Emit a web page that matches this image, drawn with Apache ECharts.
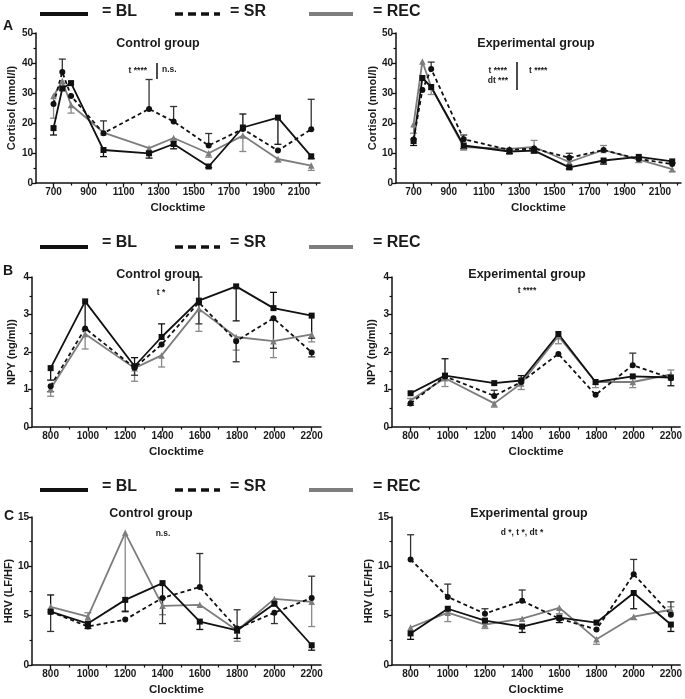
<!DOCTYPE html>
<html><head><meta charset="utf-8">
<script src="https://cdn.jsdelivr.net/npm/echarts@6/dist/echarts.min.js"></script>
<style>html,body{margin:0;padding:0;background:#fff}#c{width:685px;height:699px}</style>
</head><body><div id="c"></div>
<script>
// ---------- DATA ----------
const cortTimes = [700, 750, 800, 985, 1245, 1385, 1585, 1780, 1980, 2170];
const cortCtrlBL  = [18.3, 31.5, 33.3, 11.0, 9.9, 13.0, 5.5, 18.5, 21.8, 8.9];
const cortCtrlSR  = [26.3, 37.0, 29.0, 16.6, 24.7, 20.5, 12.5, 18.0, 10.8, 17.9];
const cortCtrlREC = [29.0, 34.0, 26.0, 16.8, 11.6, 15.0, 9.9, 15.8, 8.0, 5.8];
const cortCtrlBLErr  = [-2.3, 0, 0, -2.2, -1.6, -1.6, -0.4, 4.5, -8.9, -0.8];
const cortCtrlSRErr  = [0, 4.3, 0, 4.1, 9.8, 5.0, 4.0, 0, 0, 10.0];
const cortCtrlRECErr = [-7.4, -3.0, -2.7, 0, -1.0, -1.0, -1.3, -5.3, -1.0, -1.6];

const cortExpBL  = [14.0, 35.0, 32.0, 12.5, 10.5, 10.8, 5.2, 7.5, 8.7, 7.2];
const cortExpSR  = [14.5, 31.0, 38.0, 14.6, 11.0, 11.5, 8.4, 11.0, 8.0, 6.3];
const cortExpREC = [19.6, 40.5, 32.0, 12.0, 11.4, 12.0, 7.0, 11.0, 7.8, 4.6];
const cortExpBLErr  = [-1.5, 0, 0, -1.0, -0.7, -0.8, -0.5, -1.2, 0, -0.5];
const cortExpSRErr  = [0, 0, 2.3, 1.4, 0, 0, 1.5, 0, 0, 0];
const cortExpRECErr = [-3.0, 0, -2.5, -1.0, 0, 2.2, 0, 1.5, -1.0, -0.8];

const npyTimes = [800, 985, 1250, 1395, 1595, 1795, 1995, 2200];
const npyCtrlBL  = [1.57, 3.35, 1.62, 2.40, 3.37, 3.75, 3.17, 2.97];
const npyCtrlSR  = [1.09, 2.63, 1.58, 2.20, 3.32, 2.29, 2.90, 1.99];
const npyCtrlREC = [1.02, 2.48, 1.57, 1.91, 3.15, 2.40, 2.29, 2.47];
const npyCtrlBLErr  = [-0.32, -0.75, 0.23, 0.35, 0.63, -0.92, 0.42, -0.60];
const npyCtrlSRErr  = [-0.15, 0, -0.20, 0, -0.57, -0.55, -0.80, -0.12];
const npyCtrlRECErr = [-0.20, -0.40, -0.35, -0.31, -0.60, -0.35, -0.44, -0.20];

const npyExpBL  = [0.90, 1.37, 1.17, 1.24, 2.48, 1.20, 1.35, 1.32];
const npyExpSR  = [0.63, 1.35, 0.83, 1.20, 1.95, 0.86, 1.65, 1.30];
const npyExpREC = [0.71, 1.30, 0.63, 1.16, 2.42, 1.20, 1.20, 1.40];
const npyExpBLErr  = [0, 0.45, 0, 0.13, 0, 0, 0, -0.22];
const npyExpSRErr  = [-0.05, 0, 0.15, 0, 0, 0, 0.32, 0];
const npyExpRECErr = [0.05, -0.22, -0.10, -0.16, -0.20, -0.15, -0.15, 0.12];

const hrvTimes = [800, 1000, 1200, 1400, 1600, 1800, 2000, 2200];
const hrvCtrlBL  = [5.4, 4.2, 6.6, 8.3, 4.4, 3.5, 6.2, 2.0];
const hrvCtrlSR  = [5.4, 3.9, 4.6, 6.8, 7.9, 3.7, 5.3, 6.8];
const hrvCtrlREC = [5.9, 4.9, 13.4, 6.0, 6.1, 3.5, 6.7, 6.4];
const hrvCtrlBLErr  = [1.7, -0.5, -1.2, -1.5, -0.8, -0.8, 0, -0.5];
const hrvCtrlSRErr  = [-2.0, 0, 0, -2.6, 3.4, 1.9, -1.1, 2.2];
const hrvCtrlRECErr = [0, 0.4, -7.9, -0.9, 0, -1.1, 0, -2.5];

const hrvExpBL  = [3.2, 5.7, 4.5, 3.9, 4.8, 4.3, 7.3, 4.1];
const hrvExpSR  = [10.7, 6.9, 5.2, 6.5, 4.7, 3.6, 9.2, 5.1];
const hrvExpREC = [3.8, 5.3, 4.1, 4.7, 5.8, 2.6, 4.9, 5.6];
const hrvExpBLErr  = [-0.6, 0, 0, -0.6, -0.5, 0, -1.6, -0.7];
const hrvExpSRErr  = [2.5, 1.3, 0.5, 1.1, 0, 0, 1.5, 1.3];
const hrvExpRECErr = [0, -0.9, -0.4, 0, -0.6, -0.5, -0.3, 0.3];

const cortMajor = [700, 900, 1100, 1300, 1500, 1700, 1900, 2100];
const cortMinor = [800, 1000, 1200, 1400, 1600, 1800, 2000, 2200];
const hourMajor = [800, 1000, 1200, 1400, 1600, 1800, 2000, 2200];
const hourMinor = [900, 1100, 1300, 1500, 1700, 1900, 2100];

// ---------- CHART ----------
const FONT = "'Liberation Sans', Arial, sans-serif";
const BLACK = '#111', GREY = '#7d7d7d';

const panels = [
  {left: 36,  top: 33,  w: 284, h: 150, xmin: 600, xmax: 2220, ymax: 50, yint: 10, yname: 'Cortisol (nmol/l)', ngap: 19, maj: cortMajor, min: cortMinor,
   t: cortTimes, bl: cortCtrlBL, sr: cortCtrlSR, rec: cortCtrlREC, ebl: cortCtrlBLErr, esr: cortCtrlSRErr, erec: cortCtrlRECErr},
  {left: 396, top: 33,  w: 285, h: 150, xmin: 600, xmax: 2220, ymax: 50, yint: 10, yname: 'Cortisol (nmol/l)', ngap: 16, maj: cortMajor, min: cortMinor,
   t: cortTimes, bl: cortExpBL, sr: cortExpSR, rec: cortExpREC, ebl: cortExpBLErr, esr: cortExpSRErr, erec: cortExpRECErr},
  {left: 32,  top: 277, w: 289, h: 150, xmin: 700, xmax: 2250, ymax: 4, yint: 1, yname: 'NPY (ng/ml))', ngap: 15, maj: hourMajor, min: hourMinor,
   t: npyTimes, bl: npyCtrlBL, sr: npyCtrlSR, rec: npyCtrlREC, ebl: npyCtrlBLErr, esr: npyCtrlSRErr, erec: npyCtrlRECErr},
  {left: 392, top: 277, w: 290, h: 150, xmin: 700, xmax: 2250, ymax: 4, yint: 1, yname: 'NPY (ng/ml))', ngap: 15, maj: hourMajor, min: hourMinor,
   t: npyTimes, bl: npyExpBL, sr: npyExpSR, rec: npyExpREC, ebl: npyExpBLErr, esr: npyExpSRErr, erec: npyExpRECErr},
  {left: 32,  top: 517, w: 289, h: 148, xmin: 700, xmax: 2250, ymax: 15, yint: 5, yname: 'HRV (LF/HF)', ngap: 14, maj: hourMajor, min: hourMinor,
   t: hrvTimes, bl: hrvCtrlBL, sr: hrvCtrlSR, rec: hrvCtrlREC, ebl: hrvCtrlBLErr, esr: hrvCtrlSRErr, erec: hrvCtrlRECErr},
  {left: 392, top: 517, w: 290, h: 148, xmin: 700, xmax: 2250, ymax: 15, yint: 5, yname: 'HRV (LF/HF)', ngap: 14, maj: hourMajor, min: hourMinor,
   t: hrvTimes, bl: hrvExpBL, sr: hrvExpSR, rec: hrvExpREC, ebl: hrvExpBLErr, esr: hrvExpSRErr, erec: hrvExpRECErr}
];

const grid = [], xAxis = [], yAxis = [], series = [];
const axLine = {show: true, lineStyle: {color: BLACK, width: 1.5}};
const lblStyle = {color: '#1a1a1a', fontFamily: FONT, fontWeight: 'bold', fontSize: 10};

function errSeries(gi, times, vals, errs, color) {
  return {
    type: 'custom', xAxisIndex: 2 * gi, yAxisIndex: gi, silent: true, z: 1,
    data: times.map((t, i) => [t, vals[i], errs[i]]).filter(d => d[2] !== 0),
    encode: {x: 0, y: 1},
    renderItem: function (params, api) {
      const x = api.value(0), y = api.value(1), e = api.value(2);
      const p0 = api.coord([x, y]), p1 = api.coord([x, y + e]);
      const st = {stroke: color, lineWidth: 1.3};
      return {type: 'group', children: [
        {type: 'line', shape: {x1: p0[0], y1: p0[1], x2: p1[0], y2: p1[1]}, style: st},
        {type: 'line', shape: {x1: p1[0] - 3.5, y1: p1[1], x2: p1[0] + 3.5, y2: p1[1]}, style: st}
      ]};
    }
  };
}

panels.forEach((p, gi) => {
  grid.push({left: p.left, top: p.top, width: p.w, height: p.h});
  xAxis.push({
    type: 'value', gridIndex: gi, min: p.xmin, max: p.xmax,
    name: 'Clocktime', nameLocation: 'middle', nameGap: 19,
    nameTextStyle: {color: '#1a1a1a', fontFamily: FONT, fontWeight: 'bold', fontSize: 11.5},
    axisLine: axLine, splitLine: {show: false},
    axisTick: {show: true, length: 4.5, lineStyle: {color: BLACK, width: 1.3}, customValues: p.maj},
    axisLabel: Object.assign({margin: 4, customValues: p.maj, formatter: v => String(Math.round(v))}, lblStyle)
  });
  xAxis.push({
    type: 'value', gridIndex: gi, min: p.xmin, max: p.xmax, position: 'bottom',
    axisLine: {show: false}, splitLine: {show: false},
    axisTick: {show: true, length: 2.5, lineStyle: {color: BLACK, width: 1.2}, customValues: p.min},
    axisLabel: {show: false}
  });
  yAxis.push({
    type: 'value', gridIndex: gi, min: 0, max: p.ymax, interval: p.yint,
    name: p.yname, nameLocation: 'middle', nameGap: p.ngap, nameRotate: 90,
    nameTextStyle: {color: '#1a1a1a', fontFamily: FONT, fontWeight: 'bold', fontSize: 11},
    axisLine: axLine, splitLine: {show: false},
    axisTick: {show: true, length: 4, lineStyle: {color: BLACK, width: 1.3}},
    minorTick: {show: true, splitNumber: 2, length: 2.5, lineStyle: {color: BLACK, width: 1.2}},
    axisLabel: Object.assign({margin: 3, formatter: v => String(v)}, lblStyle)
  });
  const mk = (vals, color, symbol, size, type) => ({
    type: 'line', xAxisIndex: 2 * gi, yAxisIndex: gi, z: 3,
    data: p.t.map((t, i) => [t, vals[i]]),
    symbol: symbol, symbolSize: size, showSymbol: true,
    lineStyle: {color: color, width: 1.8, type: type},
    itemStyle: {color: color, borderWidth: 0}
  });
  series.push(errSeries(gi, p.t, p.rec, p.erec, '#888'));
  series.push(errSeries(gi, p.t, p.sr, p.esr, '#333'));
  series.push(errSeries(gi, p.t, p.bl, p.ebl, BLACK));
  series.push(mk(p.rec, GREY, 'triangle', 6.5, 'solid'));
  series.push(mk(p.sr, BLACK, 'circle', 6, [4, 3]));
  series.push(mk(p.bl, BLACK, 'rect', 6, 'solid'));
});

// ---------- decorations (legend rows, titles, annotations) ----------
const g = [];
function txt(x, y, s, size, align, extra) {
  g.push(Object.assign({type: 'text', x: x, y: y, style: {text: s, fill: '#1a1a1a',
    font: 'bold ' + size + 'px ' + FONT, textAlign: align || 'center', textVerticalAlign: 'middle'}}, extra || {}));
}
function ln(x1, y1, x2, y2, color, w, dash) {
  g.push({type: 'line', shape: {x1: x1, y1: y1, x2: x2, y2: y2},
    style: {stroke: color, lineWidth: w, lineDash: dash || null}});
}
[[14, 12], [247, 243], [490, 487]].forEach(([yl, yt]) => {
  ln(40, yl, 88, yl, BLACK, 4);
  txt(102, yt, '= BL', 16, 'left');
  ln(175, yl, 220, yl, BLACK, 3.5, [8, 5]);
  txt(230, yt, '= SR', 16, 'left');
  ln(309, yl, 353, yl, GREY, 4);
  txt(373, yt, '= REC', 16, 'left');
});
txt(3, 26, 'A', 14, 'left');
txt(3, 271, 'B', 14, 'left');
txt(4, 516, 'C', 14, 'left');
txt(158, 44, 'Control group', 12.5);
txt(536, 44, 'Experimental group', 12.5);
txt(158, 275, 'Control group', 12.5);
txt(527, 275, 'Experimental group', 12.5);
txt(151, 514, 'Control group', 12.5);
txt(529, 514, 'Experimental group', 12.5);
// annotations
txt(147, 71, 't ****', 8.5, 'right');
ln(157, 63, 157, 79, BLACK, 1.5);
txt(162, 70, 'n.s.', 8.5, 'left');
txt(507, 71, 't ****', 8.5, 'right');
txt(508, 81, 'dt ***', 8.5, 'right');
ln(517, 62, 517, 90, BLACK, 1.5);
txt(529, 71, 't ****', 8.5, 'left');
txt(161, 293, 't *', 8.5);
txt(527, 291, 't ****', 8.5);
txt(163, 534, 'n.s.', 8.5);
txt(522, 533, 'd *, t *, dt *', 8.5);

const chart = echarts.init(document.getElementById('c'), null, {renderer: 'canvas'});
chart.setOption({
  animation: false, backgroundColor: '#fff',
  grid: grid, xAxis: xAxis, yAxis: yAxis, series: series, graphic: g
});
</script></body></html>
